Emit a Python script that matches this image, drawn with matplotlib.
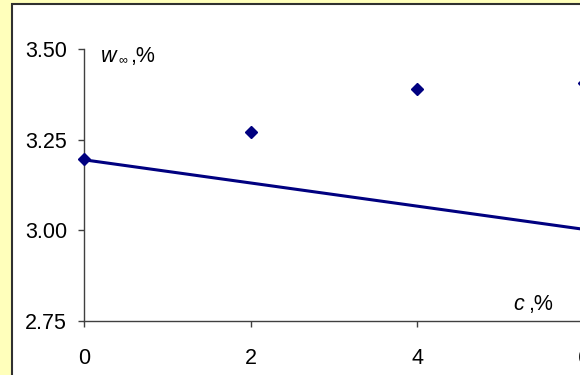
import matplotlib.pyplot as plt
from matplotlib.patches import Rectangle

# data
points_x = [0, 2, 4, 6]
points_y = [3.196, 3.272, 3.390, 3.407]
line_x = [0, 6]
line_y = [3.195, 3.003]
y_ticks = [2.75, 3.00, 3.25, 3.50]
x_ticks = [0, 2, 4, 6]

W, H = 580, 375
plt.rcParams['font.family'] = ['Liberation Sans', 'DejaVu Sans']

fig = plt.figure(figsize=(W / 100, H / 100), dpi=100)
fig.patch.set_facecolor('#FFFFBB')

# white chart area with dark border (cropped chart)
fig.patches.append(Rectangle((12 / W, -0.1), 1.2, (H - 4) / H + 0.1,
                             transform=fig.transFigure, facecolor='white',
                             edgecolor='#303030', linewidth=1.5, zorder=-1))

left, right = 84, 584
top, bottom = 49.3, 321
ax = fig.add_axes([left / W, (H - bottom) / H, (right - left) / W, (bottom - top) / H])
ax.set_facecolor('none')

ax.plot(line_x, line_y, color='#000080', linewidth=2.2, clip_on=False, zorder=3)
ax.plot(points_x, points_y, linestyle='none', marker='D', markersize=6.2,
        color='#000080', clip_on=False, zorder=4)

ax.set_xlim(0, 6)
ax.set_ylim(2.75, 3.50)
ax.set_xticks(x_ticks)
ax.set_yticks(y_ticks)
ax.set_yticklabels([f"{v:.2f}" for v in y_ticks])
ax.tick_params(axis='both', direction='out', length=4.3, width=1, color='#404040',
               labelsize=15.5)
ax.tick_params(axis='y', pad=8)
ax.tick_params(axis='x', pad=15)

for s in ['top', 'right']:
    ax.spines[s].set_visible(False)
for s in ['left', 'bottom']:
    ax.spines[s].set_color('#404040')
    ax.spines[s].set_linewidth(1)

# axis titles
fig.text(101 / W, 1 - 62 / H, 'w', fontsize=15.5, style='italic')
fig.text(118 / W, 1 - 63 / H, '\u221e', fontsize=9)
fig.text(130 / W, 1 - 62 / H, ',%', fontsize=15.5)
fig.text(513 / W, 1 - 310 / H, 'c', fontsize=15.5, style='italic')
fig.text(528 / W, 1 - 310 / H, ',%', fontsize=15.5)

fig.savefig('out.png', dpi=100, facecolor=fig.get_facecolor())
